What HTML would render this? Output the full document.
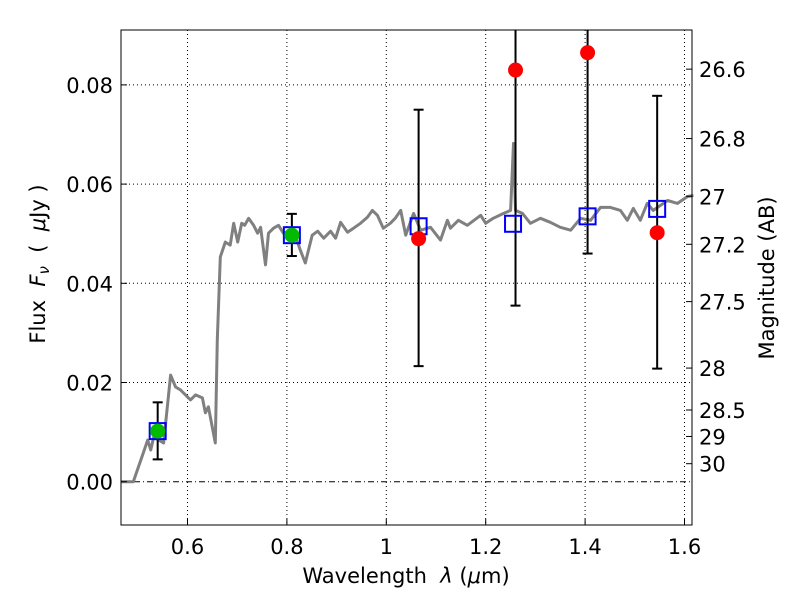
<!DOCTYPE html>
<html><head><meta charset="utf-8"><style>
body{margin:0;background:#fff;}
svg text{font-family:"DejaVu Sans","Liberation Sans",sans-serif;}
</style></head><body>
<svg id="chart" width="800" height="600" xmlns="http://www.w3.org/2000/svg">
<rect width="800" height="600" fill="#fff"/>
<g id="grid"></g>
<g id="spec"></g>
<g id="marks"></g>
<rect x="121" y="30" width="571" height="495" fill="none" stroke="#000" stroke-width="1"/>
<g id="axes"></g>
<text x="406" y="583" font-size="21" text-anchor="middle">Wavelength&#160;&#160;<tspan font-style="italic">λ</tspan>&#160;(<tspan font-style="italic">μ</tspan>m)</text>
<text transform="translate(45,264) rotate(-90)" font-size="21" text-anchor="middle">Flux&#160;&#160;<tspan font-style="italic">F</tspan><tspan font-style="italic" font-size="15" dy="4">ν</tspan><tspan dy="-4">&#160;&#160;(&#160;&#160;</tspan><tspan font-style="italic">μ</tspan>Jy&#160;)</text>
<text transform="translate(774,278) rotate(-90)" font-size="21" text-anchor="middle">Magnitude (AB)</text>
</svg>
<script>
const specWl=[0.467,0.491,0.511,0.520,0.526,0.532,0.552,0.566,0.576,0.586,0.596,0.606,0.616,0.630,0.636,0.642,0.656,0.660,0.666,0.676,0.686,0.693,0.701,0.709,0.715,0.723,0.733,0.741,0.747,0.757,0.763,0.773,0.783,0.793,0.813,0.827,0.837,0.851,0.862,0.874,0.888,0.898,0.908,0.922,0.934,0.948,0.962,0.972,0.982,0.994,1.008,1.018,1.029,1.039,1.055,1.069,1.089,1.109,1.123,1.129,1.145,1.163,1.190,1.200,1.215,1.236,1.250,1.256,1.260,1.274,1.290,1.310,1.330,1.350,1.371,1.391,1.411,1.431,1.451,1.471,1.485,1.497,1.511,1.525,1.537,1.566,1.586,1.606,1.618];
const specFlux=[0,0,0.0058,0.0084,0.0064,0.009,0.0078,0.0215,0.0191,0.0185,0.0175,0.0165,0.0175,0.0169,0.0139,0.0151,0.0078,0.0286,0.0453,0.0483,0.0477,0.0521,0.0483,0.0521,0.0517,0.0531,0.0517,0.0501,0.0513,0.0437,0.0501,0.0511,0.0517,0.0501,0.0507,0.0467,0.0441,0.0497,0.0505,0.0491,0.0505,0.0491,0.0523,0.0503,0.0511,0.0521,0.0533,0.0547,0.0537,0.0511,0.0521,0.0531,0.0547,0.0497,0.0541,0.0507,0.0513,0.0487,0.0527,0.0511,0.0527,0.0517,0.0537,0.0521,0.0531,0.0541,0.0547,0.0682,0.0547,0.0541,0.0521,0.0531,0.0523,0.0513,0.0507,0.0531,0.0527,0.0553,0.0553,0.0547,0.0527,0.0551,0.0527,0.0561,0.0547,0.0567,0.0561,0.0575,0.0577];
const modelWl=[0.54,0.81,1.065,1.255,1.405,1.545];
const modelFlux=[0.0102,0.0497,0.0515,0.052,0.0535,0.055];
const obsWl=[0.54,0.81,1.065,1.26,1.405,1.545];
const obsFlux=[0.0102,0.0497,0.049,0.083,0.0865,0.0502];
const obsDetected=[true,true,false,false,false,false];
const errLo=[0.0045,0.0455,0.0233,0.0355,0.046,0.0228];
const errHi=[0.016,0.054,0.075,0.095,0.095,0.0778];
const xTicks=[0.6,0.8,1.0,1.2,1.4,1.6];
const xTickLabels=["0.6","0.8","1","1.2","1.4","1.6"];
const yTicks=[0,0.02,0.04,0.06,0.08];
const yTickLabels=["0.00","0.02","0.04","0.06","0.08"];
const magTicks=[26.6,26.8,27,27.2,27.5,28,28.5,29,30];
const magTickLabels=["26.6","26.8","27","27.2","27.5","28","28.5","29","30"];

const NS="http://www.w3.org/2000/svg";
const L=121,R=692,T=30,B=525;
const X0=0.6,PX0=187.5,PXS=497;
const Y0=481.7,PYS=4960;
function xs(v){return PX0+(v-X0)*PXS;}
function ys(v){return Y0-v*PYS;}
function mk(tag,attrs,parent){const e=document.createElementNS(NS,tag);for(const k in attrs)e.setAttribute(k,attrs[k]);parent.appendChild(e);return e;}
const grid=document.getElementById('grid'),axes=document.getElementById('axes'),spec=document.getElementById('spec'),marks=document.getElementById('marks');
function clampY(y){return Math.max(T,Math.min(B,y));}

xTicks.forEach((t,i)=>{
  const x=xs(t);
  const g=mk('line',{x1:x,x2:x,y1:T,y2:B,stroke:'#000','stroke-width':1,'stroke-dasharray':'1,3'},grid);
  
  
  const tk=mk('line',{x1:x,x2:x,y1:B,y2:B-6,stroke:'#000'},axes);
  
  
  const tt=mk('text',{x:x,y:B+29,'font-size':21,'text-anchor':'middle'},axes);
  tt.textContent=xTickLabels[i];
  
  
});
yTicks.forEach((t,i)=>{
  const y=ys(t);
  const g=mk('line',{x1:L,x2:R,y1:y,y2:y,stroke:'#000','stroke-width':1,'stroke-dasharray':t===0?'6,3,1,3':'1,3'},grid);
  
  
  const tk=mk('line',{x1:L,x2:L+6,y1:y,y2:y,stroke:'#000'},axes);
  
  
  const tt=mk('text',{x:L-8,y:y+8,'font-size':21,'text-anchor':'end'},axes);
  tt.textContent=yTickLabels[i];
  
  
});
magTicks.forEach((m,i)=>{
  const y=ys(Math.pow(10,(23.9-m)/2.5));
  const tk=mk('line',{x1:R,x2:R-6,y1:y,y2:y,stroke:'#000'},axes);
  
  
  const tt=mk('text',{x:R+7,y:y+8,'font-size':21},axes);
  tt.textContent=magTickLabels[i];
  
  
});

const pts=specWl.map((w,i)=>xs(w).toFixed(1)+','+ys(specFlux[i]).toFixed(1)).join(' ');
const pl=mk('polyline',{points:pts,fill:'none',stroke:'#808080','stroke-width':3,'stroke-linejoin':'round'},spec);



obsWl.forEach((w,i)=>{
  const x=xs(w),y1=clampY(ys(errLo[i])),y2=clampY(ys(errHi[i]));
  const e=mk('line',{x1:x,x2:x,y1:y1,y2:y2,stroke:'#000','stroke-width':2},marks);
  
  
  [errLo[i],errHi[i]].forEach(v=>{const yy=ys(v);if(yy>T&&yy<B){const c=mk('line',{x1:x-5,x2:x+5,y1:yy,y2:yy,stroke:'#000','stroke-width':2},marks);
    
    }});
});
modelWl.forEach((w,i)=>{
  const s=mk('rect',{x:xs(w)-8,y:ys(modelFlux[i])-8,width:16,height:16,fill:'none',stroke:'#0000ff','stroke-width':2},marks);
  
  
});
obsWl.forEach((w,i)=>{
  const c=mk('circle',{cx:xs(w),cy:ys(obsFlux[i]),r:7.5,fill:obsDetected[i]?'#00bb00':'#ff0000'},marks);
  
  
});
</script>
</body></html>
